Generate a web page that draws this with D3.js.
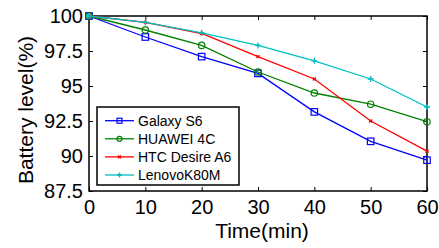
<!DOCTYPE html>
<html>
<head>
<style>
  html, body { margin:0; padding:0; background:white; }
  svg { display:block; }
  text { font-family: "Liberation Sans", Arial, sans-serif; fill:#000; }
</style>
<script src="https://d3js.org/d3.v7.min.js"></script>
</head>
<body>
<svg id="chart" width="439" height="248"></svg>
<script>
  var times = [0, 10, 20, 30, 40, 50, 60];
  var galaxyS6 = [100, 98.5, 97.1, 95.9, 93.15, 91.05, 89.7];
  var huawei4C = [100, 99.0, 97.9, 96.0, 94.5, 93.7, 92.45];
  var htcA6 = [100, 99.55, 98.75, 97.1, 95.5, 92.5, 90.35];
  var lenovo = [100, 99.55, 98.8, 97.9, 96.8, 95.5, 93.5];
  var seriesNames = ["Galaxy S6", "HUAWEI 4C", "HTC Desire A6", "LenovoK80M"];
  var seriesColors = ["#0000ff", "#008000", "#ff0000", "#00bfbf"];
  var yTicks = [87.5, 90, 92.5, 95, 97.5, 100];
  var xTicks = [0, 10, 20, 30, 40, 50, 60];

  var allSeries = [galaxyS6, huawei4C, htcA6, lenovo];

  var svg = d3.select("#chart");
  var plotL = 89, plotR = 427, plotT = 16, plotB = 191;

  var x = d3.scaleLinear().domain([0, 60]).range([plotL, plotR]);
  var y = d3.scaleLinear().domain([87.5, 100]).range([plotB, plotT]);

  // box
  svg.append("rect")
    .attr("x", plotL).attr("y", plotT)
    .attr("width", plotR - plotL).attr("height", plotB - plotT)
    .attr("fill", "none").attr("stroke", "#000").attr("stroke-width", 1.5);

  // axes, ticks inside
  var xAxis = svg.append("g").attr("transform", "translate(0," + plotB + ")")
    .call(d3.axisBottom(x).tickValues(xTicks).tickSizeInner(-4).tickSizeOuter(0).tickPadding(9));
  var xTop = svg.append("g").attr("transform", "translate(0," + plotT + ")")
    .call(d3.axisTop(x).tickValues(xTicks).tickSizeInner(-4).tickSizeOuter(0).tickFormat(""));
  var yAxis = svg.append("g").attr("transform", "translate(" + plotL + ",0)")
    .call(d3.axisLeft(y).tickValues(yTicks).tickSizeInner(-4).tickSizeOuter(0).tickPadding(6)
      .tickFormat(function(d) { return d3.format("")(d); }));
  var yRight = svg.append("g").attr("transform", "translate(" + plotR + ",0)")
    .call(d3.axisRight(y).tickValues(yTicks).tickSizeInner(-4).tickSizeOuter(0).tickFormat(""));

  [xAxis, xTop, yAxis, yRight].forEach(function(a) {
    a.select(".domain").remove();
    a.selectAll("line").attr("stroke", "#000").attr("stroke-width", 1);
    a.selectAll("text").style("font-size", "20px")
      .style("font-family", "'Liberation Sans', Arial, sans-serif").attr("fill", "#000");
  });

  // markers
  function drawMarker(g, i, cx, cy, small) {
    var c = seriesColors[i];
    if (i == 0) {
      var s = small ? 5 : 6.5;
      g.append("rect").attr("x", cx - s/2).attr("y", cy - s/2).attr("width", s).attr("height", s)
        .attr("fill", "none").attr("stroke", c).attr("stroke-width", 1.2);
    } else if (i == 1) {
      g.append("circle").attr("cx", cx).attr("cy", cy).attr("r", small ? 2.5 : 3.2)
        .attr("fill", "none").attr("stroke", c).attr("stroke-width", 1.2);
    } else if (i == 2) {
      var r = 1.5;
      g.append("path").attr("d", "M" + (cx-r) + "," + (cy-r) + "L" + (cx+r) + "," + (cy+r) +
        "M" + (cx-r) + "," + (cy+r) + "L" + (cx+r) + "," + (cy-r) + "M" + (cx-r) + "," + cy + "L" + (cx+r) + "," + cy)
        .attr("stroke", c).attr("stroke-width", 1.2);
    } else {
      var r = small ? 2.5 : 3;
      g.append("path").attr("d", "M" + (cx-r) + "," + cy + "L" + (cx+r) + "," + cy +
        "M" + cx + "," + (cy-r) + "L" + cx + "," + (cy+r))
        .attr("stroke", c).attr("stroke-width", 1.3);
      g.append("circle").attr("cx", cx).attr("cy", cy).attr("r", 1.4).attr("fill", c);
    }
  }

  var line = d3.line()
    .x(function(d, j) { return x(times[j]); })
    .y(function(d) { return y(d); });

  allSeries.forEach(function(s, i) {
    var g = svg.append("g");
    g.append("path").datum(s).attr("d", line)
      .attr("fill", "none").attr("stroke", seriesColors[i]).attr("stroke-width", 1.3);
    s.forEach(function(v, j) { drawMarker(g, i, x(times[j]), y(v), false); });
  });

  // legend
  var legend = svg.append("g");
  legend.append("rect").attr("x", 97).attr("y", 107).attr("width", 142).attr("height", 78)
    .attr("fill", "white").attr("stroke", "#000").attr("stroke-width", 1.5);
  seriesNames.forEach(function(name, i) {
    var ly = 120.7 + i * 18.1;
    legend.append("line").attr("x1", 105).attr("x2", 134).attr("y1", ly).attr("y2", ly)
      .attr("stroke", seriesColors[i]).attr("stroke-width", 1.3);
    drawMarker(legend, i, 119.5, ly, true);
    legend.append("text").attr("x", 138).attr("y", ly + 5).style("font-size", "14px").text(name);
  });

  // axis labels
  svg.append("text").attr("x", 262).attr("y", 238).attr("text-anchor", "middle")
    .style("font-size", "21px").text("Time(min)");
  svg.append("text").attr("transform", "translate(33,110) rotate(-90)").attr("text-anchor", "middle")
    .style("font-size", "21px").text("Battery level(%)");
</script>
</body>
</html>
